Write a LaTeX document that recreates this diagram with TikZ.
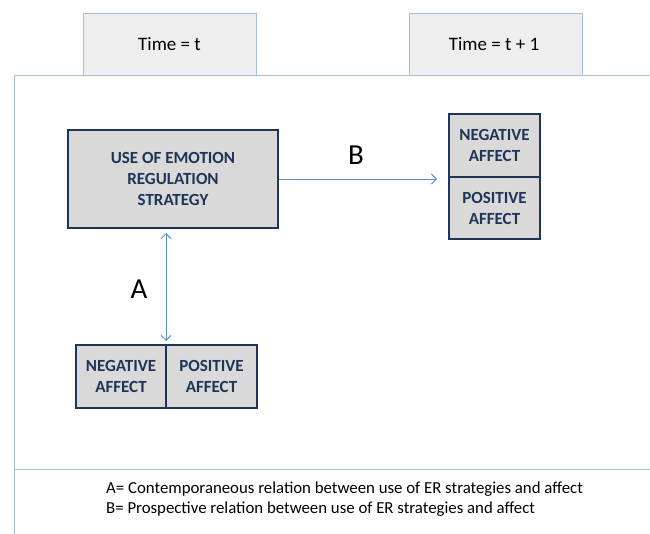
\documentclass[tikz,border=0pt]{standalone}
\usepackage{fontspec}
\setmainfont{Carlito}
\usetikzlibrary{arrows.meta}
\definecolor{navy}{HTML}{1F3557}
\definecolor{boxgray}{HTML}{D9D9D9}
\definecolor{tabgray}{HTML}{EEEEEE}
\definecolor{frameblue}{HTML}{A3BCE0}
\definecolor{arrowblue}{HTML}{5E8ECB}
\begin{document}
\begin{tikzpicture}[x=1pt,y=-1pt,
  tabbox/.style={draw=frameblue,fill=tabgray,line width=0.8pt,minimum width=173pt,minimum height=62pt,inner sep=0pt},
  tabtext/.style={font=\fontsize{19}{22}\selectfont,text=black,inner sep=0pt,anchor=base},
  darkbox/.style={draw=navy,fill=boxgray,line width=2.7pt,inner sep=0pt,align=center,text=navy,font=\bfseries\fontsize{17}{21}\selectfont},
  conn/.style={draw=arrowblue,line width=0.9pt},
  lbl/.style={font=\fontsize{29}{32}\selectfont,text=black,inner sep=0pt},
  legend/.style={anchor=base west,font=\fontsize{16.8}{20}\selectfont,inner sep=0pt,text=black}]
\useasboundingbox (0,0) rectangle (650,534);
% tabs
\node[tabbox,anchor=north west] (tabT) at (83,13) {};
\node[tabbox,anchor=north west] (tabT1) at (409,13) {};
\node[tabtext] (tabTtxt) at (169.5,51) {Time = t};
\node[tabtext] (tabT1txt) at (494,51) {Time = t + 1};
% frame
\draw[draw=frameblue,line width=0.8pt] (650,75) -- (14,75) -- (14,534);
\draw[draw=frameblue,line width=0.8pt] (14,469) -- (650,469);
% main box
\node[darkbox,minimum width=210pt,minimum height=98pt] (er) at (173,179) {USE OF EMOTION\\REGULATION\\STRATEGY};
% right stack
\node[darkbox,minimum width=91pt,minimum height=63pt] (negR) at (494.5,145.5) {NEGATIVE\\AFFECT};
\node[darkbox,minimum width=91pt,minimum height=62pt] (posR) at (494.5,208) {POSITIVE\\AFFECT};
% bottom pair
\node[darkbox,minimum width=90pt,minimum height=63pt] (negB) at (121,376.5) {NEGATIVE\\AFFECT};
\node[darkbox,minimum width=91pt,minimum height=63pt] (posB) at (211.5,376.5) {POSITIVE\\AFFECT};
% connectors
\coordinate (bEnd) at (437,179);
\draw[conn,-{Straight Barb[length=5pt,width=10pt]}] (er.east) -- (bEnd);
\coordinate (aTop) at (166,233);
\coordinate (aBot) at (166,341);
\draw[conn,{Straight Barb[length=5pt,width=10pt]}-{Straight Barb[length=5pt,width=10pt]}] (aTop) -- (aBot);
\node[lbl] (labB) at (356,155) {B};
\node[lbl] (labA) at (139,289) {A};
% legend
\node[legend] (legA) at (106,493) {A= Contemporaneous relation between use of ER strategies and affect};
\node[legend] (legB) at (106,513) {B= Prospective relation between use of ER strategies and affect};
\end{tikzpicture}
\end{document}
